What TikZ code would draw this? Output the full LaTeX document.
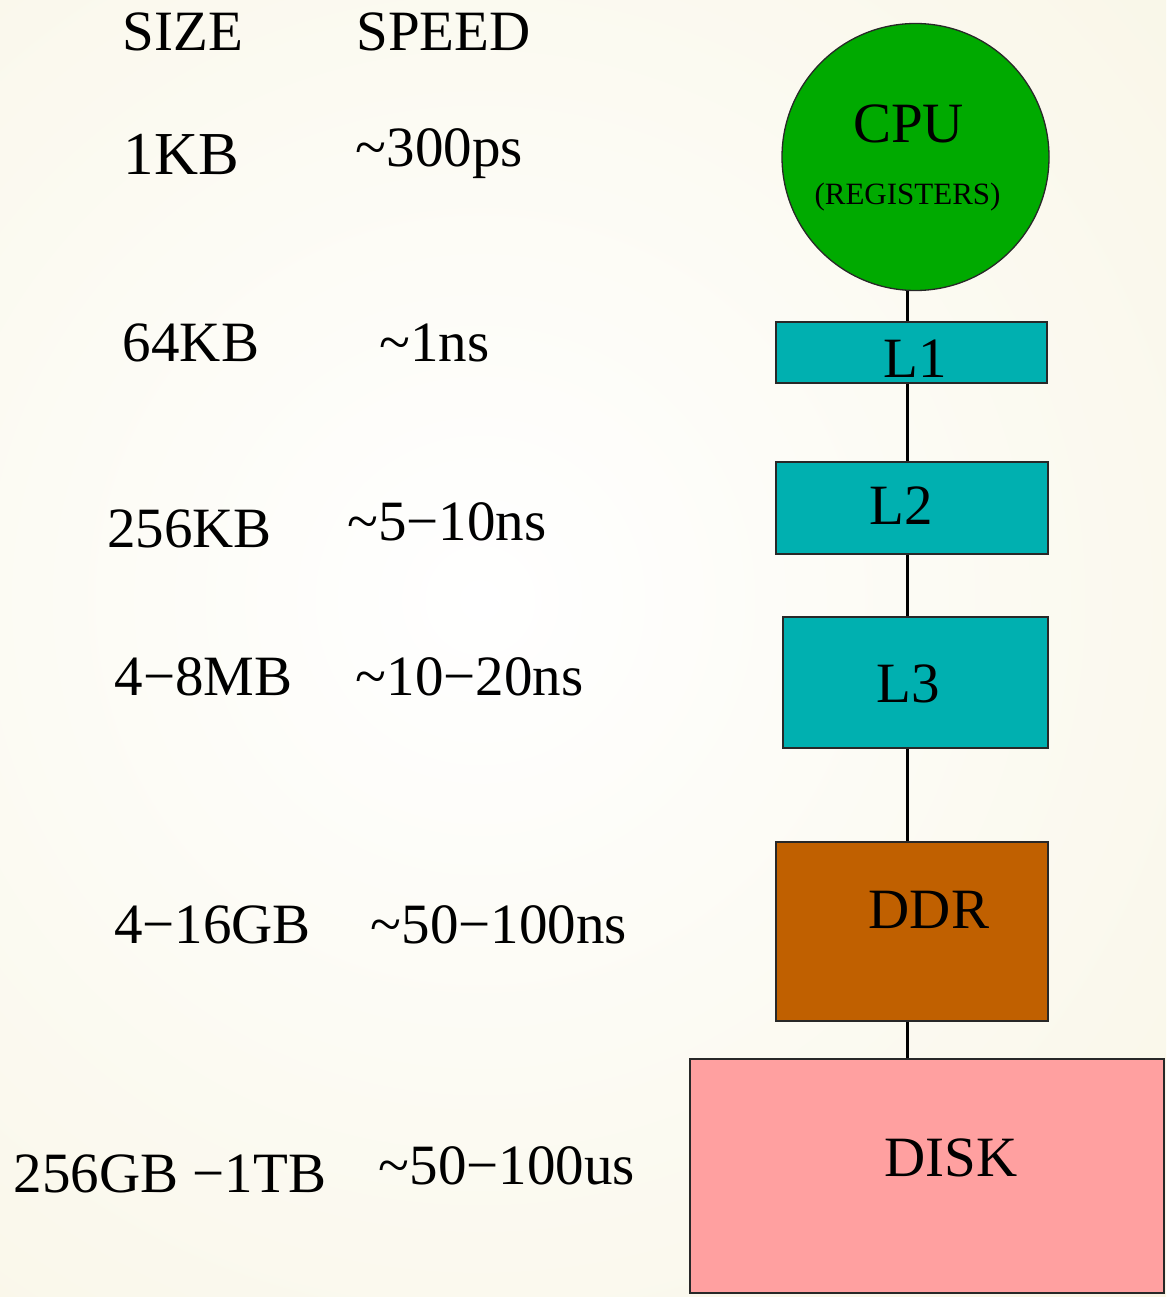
\documentclass[tikz,border=0pt]{standalone}
\usepackage{fontspec}
\setmainfont{Liberation Serif}
\definecolor{paper}{RGB}{248,245,228}
\definecolor{cpugreen}{RGB}{0,170,0}
\definecolor{cacheteal}{RGB}{0,176,176}
\definecolor{ddrbrown}{RGB}{192,96,0}
\definecolor{diskpink}{RGB}{255,160,160}
\definecolor{edge}{RGB}{40,40,40}
\tikzset{
  lbl/.style={inner sep=0pt, anchor=base, font=\fontsize{57}{61}\selectfont},
  biglbl/.style={lbl, font=\fontsize{61}{65}\selectfont},
  smalllbl/.style={inner sep=0pt, anchor=base, font=\fontsize{31}{34}\selectfont},
  memblock/.style={draw=edge, line width=1.3pt, inner sep=0pt},
  link/.style={draw=black, line width=2.2pt}
}
\begin{document}
\begin{tikzpicture}[x=1pt, y=-1pt]
  % page and soft radial background
  \useasboundingbox (0,0) rectangle (1166,1297);
  \begin{scope}
    \clip (0,0) rectangle (1166,1297);
    \fill[paper] (0,0) rectangle (1166,1297);
    \shade[inner color=white, outer color=paper] (-620,-500) rectangle (1580,1700);
  \end{scope}

  % column headings
  \node[lbl] (hsize)  at (183,51)   {SIZE};
  \node[lbl] (hspeed) at (443.5,51) {SPEED};

  % size / latency per level
  \node[biglbl] (s1) at (181.5,175) {1KB};
  \node[lbl] (t1) at (439.5,167) {\textasciitilde300ps};
  \node[lbl] (s2) at (191,361)   {64KB};
  \node[lbl] (t2) at (434.5,361) {\textasciitilde1ns};
  \node[lbl] (s3) at (189.5,547) {256KB};
  \node[lbl] (t3) at (447,540)   {\textasciitilde5−10ns};
  \node[lbl] (s4) at (203.5,695) {4−8MB};
  \node[lbl] (t4) at (469.5,695) {\textasciitilde10−20ns};
  \node[lbl] (s5) at (212.5,943) {4−16GB};
  \node[lbl] (t5) at (499,943)   {\textasciitilde50−100ns};
  \node[lbl] (s6) at (170,1192)  {256GB −1TB};
  \node[lbl] (t6) at (507,1184)  {\textasciitilde50−100us};

  % memory hierarchy blocks
  \node[memblock, circle, fill=cpugreen, minimum size=267] (cpu) at (915.5,157) {};
  \node[memblock, fill=cacheteal, minimum width=271, minimum height=61]  (l1)   at (911.5,352.5) {};
  \node[memblock, fill=cacheteal, minimum width=272, minimum height=92]  (l2)   at (912,508) {};
  \node[memblock, fill=cacheteal, minimum width=265, minimum height=131] (l3)   at (915.5,682.5) {};
  \node[memblock, fill=ddrbrown,  minimum width=272, minimum height=179] (ddr)  at (912,931.5) {};
  \node[memblock, fill=diskpink,  minimum width=474, minimum height=234] (disk) at (927,1176) {};

  % block captions
  \node[lbl] (cpul)  at (908.5,143) {CPU};
  \node[smalllbl] (regl) at (907.5,205) {(REGISTERS)};
  \node[lbl] (l1l)   at (915,377)  {L1};
  \node[lbl] (l2l)   at (901,524)  {L2};
  \node[lbl] (l3l)   at (908.5,702) {L3};
  \node[lbl] (ddrl)  at (929,928)  {DDR};
  \node[lbl] (diskl) at (951,1176) {DISK};

  % vertical spine joining the levels
  \coordinate (spine) at (907.5,0);
  \draw[link] (spine |- cpu.south) -- (spine |- l1.north);
  \draw[link] (spine |- l1.south)  -- (spine |- l2.north);
  \draw[link] (spine |- l2.south)  -- (spine |- l3.north);
  \draw[link] (spine |- l3.south)  -- (spine |- ddr.north);
  \draw[link] (spine |- ddr.south) -- (spine |- disk.north);
\end{tikzpicture}
\end{document}
